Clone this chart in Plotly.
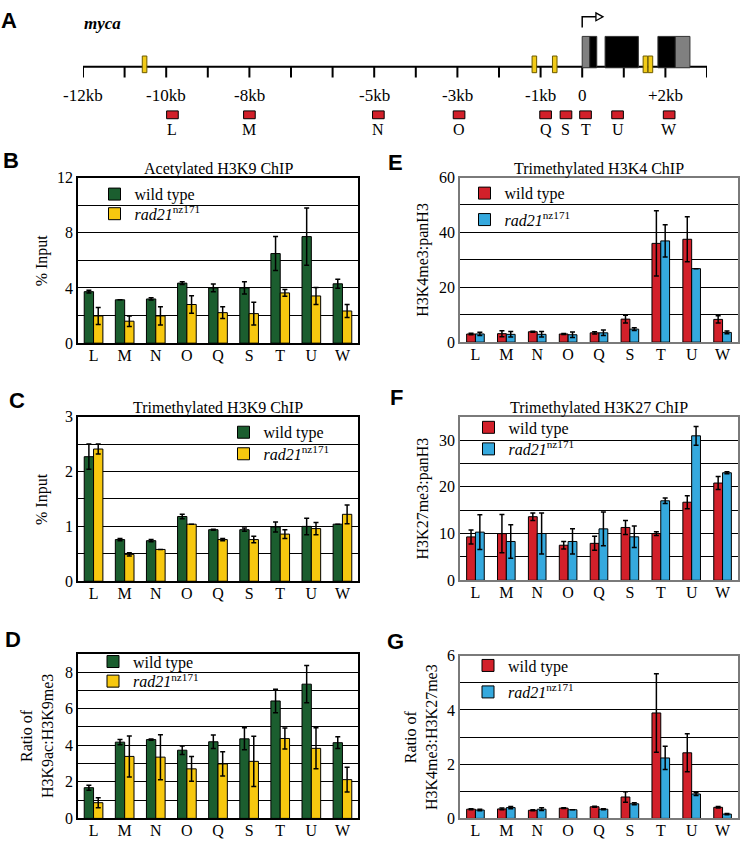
import plotly.graph_objects as go

W, H = 741, 848

# ---------------- data ----------------
cats = ["L", "M", "N", "O", "Q", "S", "T", "U", "W"]
series_names = ["wild type", "<i>rad21</i><sup>nz171</sup>"]

acK9_wt = [3.73, 3.14, 3.2, 4.35, 4.0, 4.0, 6.49, 7.72, 4.3]
acK9_wt_err = [0.1, 0.0, 0.08, 0.1, 0.28, 0.44, 1.23, 2.07, 0.33]
acK9_mut = [1.97, 1.59, 1.97, 2.8, 2.21, 2.14, 3.64, 3.42, 2.33]
acK9_mut_err = [0.62, 0.38, 0.66, 0.64, 0.43, 0.83, 0.24, 0.62, 0.47]

me3K9_wt = [2.27, 0.76, 0.74, 1.18, 0.94, 0.94, 0.99, 1.0, 1.04]
me3K9_wt_err = [0.23, 0.02, 0.02, 0.04, 0.01, 0.03, 0.09, 0.15, 0.0]
me3K9_mut = [2.41, 0.49, 0.58, 1.04, 0.76, 0.76, 0.86, 0.96, 1.22]
me3K9_mut_err = [0.09, 0.03, 0.0, 0.0, 0.02, 0.06, 0.08, 0.11, 0.17]

ratioK9_wt = [1.68, 4.17, 4.31, 3.73, 4.19, 4.35, 6.42, 7.34, 4.14]
ratioK9_wt_err = [0.14, 0.14, 0.03, 0.23, 0.37, 0.6, 0.64, 1.02, 0.32]
ratioK9_mut = [0.86, 3.39, 3.35, 2.71, 2.98, 3.12, 4.37, 3.83, 2.12]
ratioK9_mut_err = [0.27, 1.12, 1.23, 0.68, 0.66, 1.37, 0.57, 1.12, 0.68]

k4_wt = [2.97, 3.1, 3.8, 2.97, 3.4, 8.4, 36.0, 37.5, 8.3]
k4_wt_err = [0.3, 1.1, 0.2, 0.2, 0.4, 1.4, 11.9, 8.2, 1.3]
k4_mut = [3.0, 2.85, 2.85, 2.7, 3.4, 4.75, 36.9, 26.8, 3.56]
k4_mut_err = [0.6, 1.0, 1.0, 1.0, 1.0, 0.5, 5.9, 0.0, 0.5]

k27_wt = [9.28, 9.98, 13.6, 7.5, 7.9, 11.3, 10.0, 16.7, 20.8]
k27_wt_err = [1.5, 4.1, 0.8, 0.8, 1.5, 1.5, 0.4, 1.4, 1.4]
k27_mut = [10.3, 8.3, 10.0, 8.3, 11.0, 9.3, 17.0, 30.9, 23.0]
k27_mut_err = [3.7, 3.6, 4.4, 2.7, 3.6, 2.3, 0.6, 2.0, 0.2]

ratioK4_wt = [0.34, 0.35, 0.3, 0.38, 0.43, 0.79, 3.89, 2.42, 0.41]
ratioK4_wt_err = [0.02, 0.03, 0.02, 0.01, 0.02, 0.19, 1.45, 0.7, 0.03]
ratioK4_mut = [0.31, 0.4, 0.34, 0.32, 0.34, 0.54, 2.23, 0.9, 0.16]
ratioK4_mut_err = [0.03, 0.04, 0.05, 0.0, 0.02, 0.04, 0.43, 0.05, 0.02]

# gene diagram (kb)
kb_ticks = list(range(-12, 4))
kb_label_pos = [-12, -10, -8, -5, -3, -1, 0, 2]
kb_label_text = ["-12kb", "-10kb", "-8kb", "-5kb", "-3kb", "-1kb", "0", "+2kb"]
amplicon_kb = [-9.85, -8.0, -4.9, -2.96, -0.88, -0.39, 0.08, 0.85, 2.09]
exon_start = [0.0, 0.18, 0.55, 1.82, 2.24]
exon_end = [0.18, 0.35, 1.35, 2.24, 2.59]
exon_fill = ["#808080", "#000000", "#000000", "#000000", "#808080"]
motif_kb = [-10.52, -1.15, -0.66, 1.52, 1.64]

# ---------------- styling ----------------
SERIF = "Liberation Serif"
SANS = "Liberation Sans"
GREEN, YELLOW = "#1b5e2f", "#f7c80f"
RED, BLUE = "#d2202a", "#35a9de"


def px_x(p):
    return p / W


def px_y(p):
    return 1 - p / H


panels = [
    dict(n=1, x=(78, 358), y=(173, 342), ymax=12, major=4, minor=2,
         d=(acK9_wt, acK9_wt_err, acK9_mut, acK9_mut_err), c=(GREEN, YELLOW), lc="black", bw=0.3,
         title="Acetylated H3K9 ChIP", ytitle="% Input", ytx=42,
         leg=((119, 127, 190), (119, 127, 210))),
    dict(n=2, x=(460, 738), y=(173, 341), ymax=60, major=20, minor=10,
         d=(k4_wt, k4_wt_err, k4_mut, k4_mut_err), c=(RED, BLUE), lc="#7a7a7a", bw=0.285,
         title="Trimethylated H3K4 ChIP", ytitle="H3K4me3:panH3", ytx=423,
         leg=((489, 497, 189), (489, 497, 216))),
    dict(n=3, x=(78, 358), y=(417, 585), ymax=3, major=1, minor=0.5,
         d=(me3K9_wt, me3K9_wt_err, me3K9_mut, me3K9_mut_err), c=(GREEN, YELLOW), lc="black", bw=0.3,
         title="Trimethylated H3K9 ChIP", ytitle="% Input", ytx=42,
         leg=((247, 257, 433), (247, 257, 455))),
    dict(n=4, x=(460, 738), y=(417, 584), ymax=35, major=10, minor=5,
         d=(k27_wt, k27_wt_err, k27_mut, k27_mut_err), c=(RED, BLUE), lc="#7a7a7a", bw=0.285,
         title="Trimethylated H3K27 ChIP", ytitle="H3K27me3:panH3", ytx=423,
         leg=((492, 502, 428), (492, 502, 450))),
    dict(n=5, x=(78, 358), y=(659, 827), ymax=9, major=2, minor=1,
         d=(ratioK9_wt, ratioK9_wt_err, ratioK9_mut, ratioK9_mut_err), c=(GREEN, YELLOW), lc="black", bw=0.3,
         title=None, ytitle="Ratio of<br>H3K9ac:H3K9me3", ytx=37,
         leg=((118, 125, 667), (118, 125, 687))),
    dict(n=6, x=(460, 738), y=(661, 827), ymax=6, major=2, minor=1,
         d=(ratioK4_wt, ratioK4_wt_err, ratioK4_mut, ratioK4_mut_err), c=(RED, BLUE), lc="#7a7a7a", bw=0.285,
         title=None, ytitle="Ratio of<br>H3K4me3:H3K27me3", ytx=421,
         leg=((492, 501, 671), (492, 501, 698))),
]

fig = go.Figure()
layout = dict(
    width=W, height=H, margin=dict(l=0, r=0, t=0, b=0),
    paper_bgcolor="white", plot_bgcolor="white",
    barmode="overlay", showlegend=True,
    font=dict(family=SERIF, size=16, color="black"),
)
annotations = []
shapes = []
leg_count = 0

for p in panels:
    n = p["n"]
    xa = "x" if n == 1 else f"x{n}"
    ya = "y" if n == 1 else f"y{n}"
    wt, wte, mu, mue = p["d"]
    bw = p["bw"]
    for i, (vals, errs, col) in enumerate([(wt, wte, p["c"][0]), (mu, mue, p["c"][1])]):
        leg_count += 1
        leg = "legend" if leg_count == 1 else f"legend{leg_count}"
        fig.add_trace(go.Bar(
            x=cats, y=vals, name=series_names[i],
            xaxis=xa, yaxis=ya, legend=leg,
            width=bw, offset=-bw if i == 0 else 0,
            marker=dict(color=col, line=dict(color="black", width=1)),
            error_y=dict(type="data", array=errs, color="black", thickness=1.5, width=2.5),
        ))
        sym_c, txt_x, cy = p["leg"][i]
        lx = ((sym_c - 19) + (txt_x - 38)) / 2
        layout[leg] = dict(
            x=px_x(lx), y=px_y(cy), xanchor="left", yanchor="middle",
            bgcolor="rgba(0,0,0,0)", borderwidth=0, itemwidth=30,
            font=dict(family=SERIF, size=16, color="black"),
            itemclick=False, itemdoubleclick=False,
        )
    xkey = "xaxis" if n == 1 else f"xaxis{n}"
    ykey = "yaxis" if n == 1 else f"yaxis{n}"
    layout[xkey] = dict(
        domain=[px_x(p["x"][0]), px_x(p["x"][1])], anchor=ya,
        showline=True, mirror=True, linecolor=p["lc"], linewidth=1.5,
        ticks="", showgrid=False, range=[-0.5, 8.5], ticklabelstandoff=-3,
        tickfont=dict(family=SERIF, size=16, color="black"), fixedrange=True,
    )
    layout[ykey] = dict(
        domain=[px_y(p["y"][1]), px_y(p["y"][0])], anchor=xa,
        range=[0, p["ymax"]], tick0=0, dtick=p["major"],
        showline=True, mirror=True, linecolor=p["lc"], linewidth=1.5,
        showgrid=True, gridcolor="black", gridwidth=1.3, zeroline=False,
        ticks="", tickfont=dict(family=SERIF, size=16, color="black"),
        minor=dict(dtick=p["minor"], showgrid=True, gridcolor="black", gridwidth=1.3, ticks=""),
        fixedrange=True,
    )
    cx = (p["x"][0] + p["x"][1]) / 2
    if p["title"]:
        annotations.append(dict(
            text=p["title"], x=px_x(cx), y=px_y(p["y"][0] - 9),
            xref="paper", yref="paper", showarrow=False,
            xanchor="center", yanchor="middle", font=dict(family=SERIF, size=16)))
    ty = (p["y"][0] + p["y"][1]) / 2
    annotations.append(dict(
        text=p["ytitle"], x=px_x(p["ytx"]), y=px_y(ty), xref="paper", yref="paper",
        showarrow=False, textangle=-90, xanchor="center", yanchor="middle",
        font=dict(family=SERIF, size=16)))

# panel letters
for letter, lx, ly in [("A", 9, 13), ("B", 11, 156), ("E", 395, 158), ("C", 17, 401),
                       ("F", 397, 397), ("D", 13, 644), ("G", 395, 646)]:
    annotations.append(dict(
        text=f"<b>{letter}</b>", x=px_x(lx), y=px_y(ly), xref="paper", yref="paper",
        showarrow=False, xanchor="center", yanchor="middle",
        font=dict(family=SANS, size=22, color="black")))

# ---------------- panel A: gene diagram ----------------
layout["xaxis7"] = dict(domain=[px_x(83), px_x(707)], range=[-12, 3], anchor="y7",
                        visible=False, fixedrange=True)
layout["yaxis7"] = dict(domain=[px_y(135), 1], range=[135, 0], anchor="x7",
                        visible=False, fixedrange=True)
fig.add_trace(go.Scatter(x=[-12, 3], y=[60, 60], mode="lines", xaxis="x7", yaxis="y7",
                         line=dict(color="black", width=2), showlegend=False, hoverinfo="skip"))
for k in kb_ticks:
    shapes.append(dict(type="line", xref="x7", yref="y7", x0=k, x1=k, y0=60, y1=71,
                       line=dict(color="black", width=2)))
for s, e, c in zip(exon_start, exon_end, exon_fill):
    shapes.append(dict(type="rect", xref="x7", yref="y7", x0=s, x1=e, y0=29, y1=61,
                       fillcolor=c, line=dict(color="#333333", width=1)))
for m in motif_kb:
    shapes.append(dict(type="rect", xref="x7", yref="y7", x0=m - 0.055, x1=m + 0.055, y0=49, y1=66,
                       fillcolor="#f2cb17", line=dict(color="#6b5a00", width=1)))
for a in amplicon_kb:
    shapes.append(dict(type="rect", xref="x7", yref="y7", x0=a - 0.14, x1=a + 0.14, y0=105, y1=113,
                       fillcolor="#d2202a", line=dict(color="black", width=1)))
# TSS arrow
shapes.append(dict(type="path", xref="x7", yref="y7", path="M 0,20 L 0,9 L 0.33,9",
                   line=dict(color="black", width=1.5)))
shapes.append(dict(type="path", xref="x7", yref="y7", path="M 0.33,5 L 0.5,9 L 0.33,13 Z",
                   fillcolor="white", line=dict(color="black", width=1.3)))
for pos, txt in zip(kb_label_pos, kb_label_text):
    annotations.append(dict(text=txt, x=pos, y=89, xref="x7", yref="y7", showarrow=False,
                            xanchor="center", yanchor="middle", font=dict(family=SERIF, size=17)))
for pos, txt in zip(amplicon_kb, cats):
    annotations.append(dict(text=txt, x=pos, y=124, xref="x7", yref="y7", showarrow=False,
                            xanchor="center", yanchor="middle", font=dict(family=SERIF, size=16)))
annotations.append(dict(text="<b><i>myca</i></b>", x=px_x(82), y=px_y(16), xref="paper", yref="paper",
                        showarrow=False, xanchor="left", yanchor="middle",
                        font=dict(family=SERIF, size=17)))

layout["annotations"] = annotations
layout["shapes"] = shapes
fig.update_layout(**layout)
fig.write_html("out.html", config={"displayModeBar": False},
               post_script="document.body.style.margin='0';document.body.style.overflow='hidden';")
